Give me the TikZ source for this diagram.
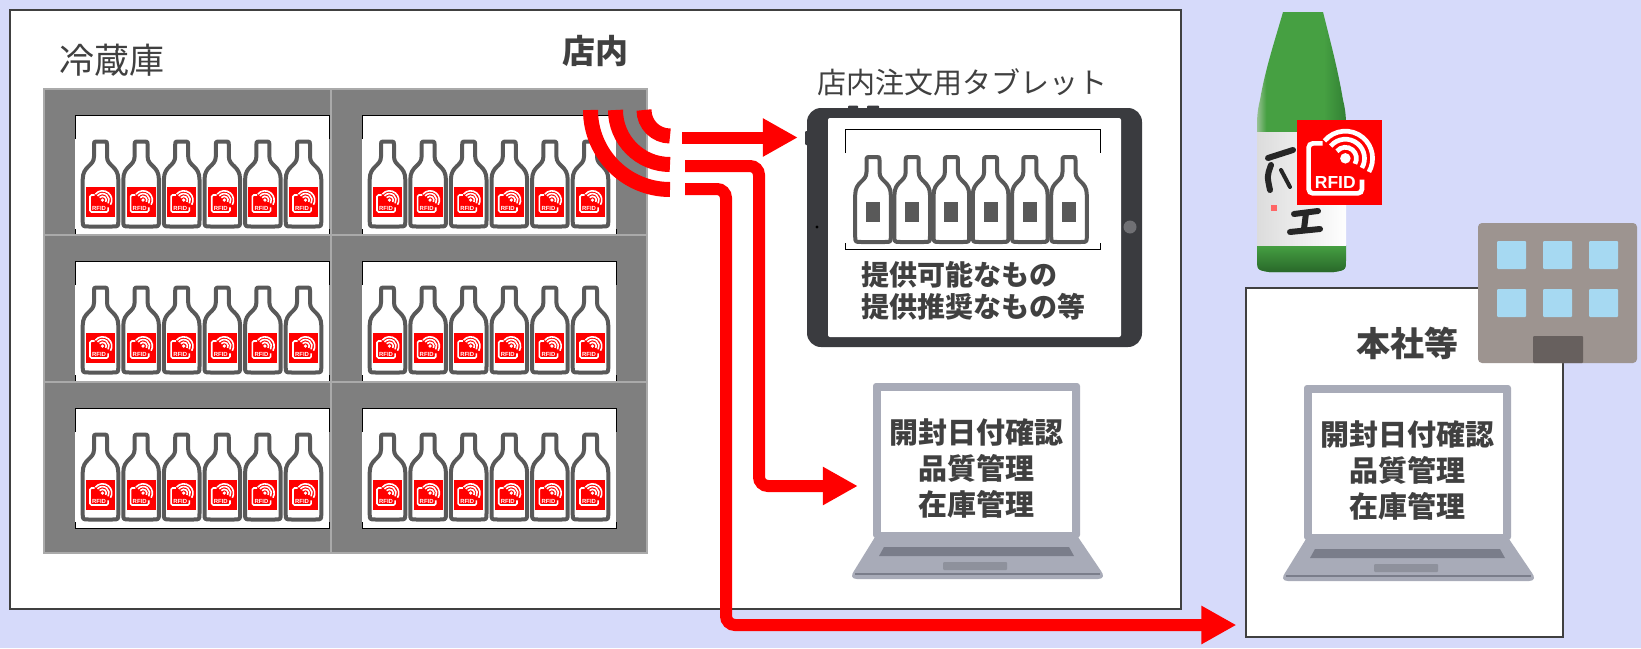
\documentclass[tikz,border=0pt]{standalone}
\usepackage{fontspec}
\newfontfamily\jp{Noto Sans CJK JP}
\newfontfamily\tagfont{Liberation Sans}
\usetikzlibrary{arrows.meta}

\definecolor{bgblue}{RGB}{214,218,250}
\definecolor{ink}{RGB}{64,64,64}
\definecolor{fridge}{RGB}{127,127,127}
\definecolor{fridgeline}{RGB}{170,170,170}
\definecolor{bottleline}{RGB}{89,89,89}
\definecolor{tabletframe}{RGB}{58,59,63}
\definecolor{homebtn}{RGB}{112,112,116}
\definecolor{lapgray}{RGB}{168,171,184}
\definecolor{lapdark}{RGB}{122,125,138}
\definecolor{bldg}{RGB}{157,148,144}
\definecolor{bldgwin}{RGB}{166,217,242}
\definecolor{bldgdoor}{RGB}{103,96,94}
\definecolor{sakegreen}{RGB}{70,160,66}
\definecolor{sakedark}{RGB}{48,125,50}
\definecolor{sakelight}{RGB}{170,200,166}
\definecolor{tagred}{RGB}{255,0,0}

% glass colour across the sake bottle: pale rim on the left, deep green on the right
\pgfdeclarehorizontalshading{sakeglass}{100bp}{%
  color(0bp)=(sakelight); color(25bp)=(sakelight); color(31bp)=(sakegreen);
  color(62bp)=(sakegreen); color(75bp)=(sakedark); color(100bp)=(sakedark)}

\tikzset{
  jptext/.style={text=ink, inner sep=0pt},
  flow/.style={draw=tagred, line width=12pt, rounded corners=9pt,
    -{Triangle[length=35pt,width=36pt]}},
  wave/.style={draw=tagred, line width=15pt},
  cellbox/.style={fill=fridge, draw=fridgeline, line width=1.5pt},
  bottlebody/.style={draw=bottleline, fill=white, line width=4pt, line join=round},
  screenframe/.style={fill=lapgray, rounded corners=3pt, inner sep=0pt,
    minimum width=207pt, minimum height=155pt},
  brush/.style={black!85, line width=5pt, line cap=round},
}

% white RFID symbol inside a square tag: top-left x, top-left y, tag size
\newcommand\rfidmark[3]{%
  \begin{scope}[shift={(#1,#2)}, x=#3pt, y=-#3pt]
    \pgfmathsetmacro\rfidlw{0.055*#3}%
    \pgfmathsetmacro\rfidfs{0.205*#3}%
    \pgfmathsetmacro\rfidrc{0.05*#3}%
    \draw[white, line width=\rfidlw pt, rounded corners=\rfidrc pt]
      (0.30,0.275) -- (0.137,0.275) -- (0.137,0.863) -- (0.765,0.863) -- (0.765,0.70);
    \fill[white] (0.569,0.451) circle[radius=0.062];
    \foreach \r in {0.13,0.225,0.32}{%
      \draw[white, line width=\rfidlw pt] (0.569,0.451) ++(-140:\r)
        arc[start angle=-140, end angle=30, radius=\r];}
    \node[white, inner sep=0pt,
      font=\tagfont\bfseries\fontsize{\rfidfs pt}{\rfidfs pt}\selectfont]
      at (0.45,0.74) {RFID};
  \end{scope}}

% outline of a small bottle, origin at the centre of its top
\newcommand\bottleoutline{%
  \draw[bottlebody] (-6.5,3) .. controls (-6.5,0) .. (-3.5,0) -- (3.5,0)
    .. controls (6.5,0) .. (6.5,3) -- (6.5,15)
    .. controls (6.5,25) and (17.8,24) .. (17.8,38) -- (17.8,79)
    .. controls (17.8,85) .. (11.8,85) -- (-11.8,85)
    .. controls (-17.8,85) .. (-17.8,79) -- (-17.8,38)
    .. controls (-17.8,24) and (-6.5,25) .. (-6.5,15) -- cycle;}

\newcommand\rfidbottle[2]{%
  \begin{scope}[shift={(#1,#2)}]
    \bottleoutline
    \fill[tagred] (-14.5,45) rectangle (14.5,75);
    \rfidmark{-14.5}{45.5}{29}
  \end{scope}}

\newcommand\menubottle[2]{%
  \begin{scope}[shift={(#1,#2)}]
    \bottleoutline
    \fill[bottleline] (-7,45) rectangle (7,65);
  \end{scope}}

% white shelf panel with a partly drawn frame: x, y, width, height
\newcommand\panel[4]{%
  \fill[white] (#1,#2) rectangle (#1+#3,#2+#4);
  \draw[black, line width=1pt] (#1,#2+24) -- (#1,#2) -- (#1+#3,#2) -- (#1+#3,#2+24);
  \draw[black, line width=1pt] (#1,#2+#4-6) -- (#1,#2+#4) -- (#1+#3,#2+#4) -- (#1+#3,#2+#4-6);}

% notebook computer: node name, shift x, shift y
\newcommand\laptop[3]{%
  \begin{scope}[shift={(#2,#3)}]
    \fill[lapgray] (875,537) -- (1078,537) -- (1101,571)
      .. controls (1104,575) and (1104,579) .. (1098,579) -- (857,579)
      .. controls (851,579) and (851,575) .. (854,571) -- cycle;
    \fill[lapdark] (884,547) -- (1069,547) -- (1074,556) -- (879,556) -- cycle;
    \fill[lapdark!85!white, rounded corners=1pt] (943,562) rectangle (1007,570);
    \draw[lapdark, line width=1.5pt] (855,574) -- (1100,574);
    \node[screenframe] (#1) at (976.5,460.5) {};
    \fill[white] (881,391) rectangle (1072,532);
    \node[jptext, align=center, font=\jp\bfseries\fontsize{29pt}{36pt}\selectfont]
      (#1text) at (976,468) {開封日付確認\\品質管理\\在庫管理};
  \end{scope}}

\begin{document}
\begin{tikzpicture}[x=1pt, y=-1pt]
\useasboundingbox (0,0) rectangle (1641,648);
\fill[bgblue] (0,0) rectangle (1641,648);

% shop area
\node[draw=ink, fill=white, line width=1.2pt, inner sep=0pt,
  minimum width=1171pt, minimum height=599pt] (store) at (595.5,309.5) {};
\node[jptext, font=\jp\fontsize{35pt}{40pt}\selectfont] (fridgelabel) at (112,60) {冷蔵庫};
\node[jptext, font=\jp\bfseries\fontsize{33pt}{40pt}\selectfont] (storelabel) at (595,51) {店内};

% refrigerator: two columns, three shelves
\foreach \cx/\cw in {44/287, 331/316} {
  \foreach \ry/\rh in {89/146, 235/147, 382/171} {
    \draw[cellbox] (\cx,\ry) rectangle (\cx+\cw,\ry+\rh);
    \panel{\cx+31}{\ry+26}{254}{120}
    \foreach \i in {0,...,5} {\rfidbottle{\cx+56.5+40.6*\i}{\ry+52.5}}
  }
}

% ordering tablet
\node[jptext, font=\jp\fontsize{29pt}{34pt}\selectfont] (tablettitle) at (962,82) {店内注文用タブレット};
\fill[tabletframe, rounded corners=1pt] (848,105.5) rectangle (858,110);
\fill[tabletframe, rounded corners=1pt] (867,105.5) rectangle (879,110);
\fill[tabletframe, rounded corners=1pt] (805,131) rectangle (809,145);
\node[fill=tabletframe, rounded corners=14pt, inner sep=0pt,
  minimum width=335pt, minimum height=239pt] (tablet) at (974.5,227.5) {};
\fill[white, rounded corners=2pt] (828,118) rectangle (1121,337);
\fill[black] (817,227) circle[radius=1.6];
\fill[homebtn] (1130,227) circle[radius=6.5];
\panel{845}{129}{255}{120}
\foreach \i in {0,...,5} {\menubottle{873+39.2*\i}{157}}
\node[jptext, anchor=west, font=\jp\bfseries\fontsize{28pt}{32pt}\selectfont]
  (offer1) at (861,275) {提供可能なもの};
\node[jptext, anchor=west, font=\jp\bfseries\fontsize{28pt}{32pt}\selectfont]
  (offer2) at (861,307) {提供推奨なもの等};

% shop computer
\laptop{shoppc}{0}{0}

% head office
\node[draw=ink, fill=white, line width=1.2pt, inner sep=0pt,
  minimum width=317pt, minimum height=349pt] (hq) at (1404.5,462.5) {};
\node[jptext, font=\jp\bfseries\fontsize{34pt}{40pt}\selectfont] (hqlabel) at (1407,343) {本社等};
\laptop{hqpc}{431}{2}

% office building
\fill[bldg, rounded corners=4pt] (1478,223) rectangle (1637,363);
\foreach \wx in {1497,1543,1589} {
  \foreach \wy in {241,289} {
    \fill[bldgwin, rounded corners=1pt] (\wx,\wy) rectangle ++(29,28);
  }
}
\fill[bldgdoor, rounded corners=1pt] (1533,336) rectangle (1583,363);

% sake bottle with its tag
\begin{scope}
  \path[clip] (1283,12) -- (1323,12) .. controls (1330,40) and (1338,70) .. (1343,100)
    .. controls (1345,108) and (1346,115) .. (1346,125) -- (1346,258)
    .. controls (1346,270) .. (1334,272) -- (1269,272)
    .. controls (1257,270) .. (1257,258) -- (1257,125)
    .. controls (1257,115) and (1258,108) .. (1260,100)
    .. controls (1265,70) and (1275,40) .. (1283,12) -- cycle;
  \shade[shading=sakeglass] (1255,10) rectangle (1348,274);
  \shade[top color=sakegreen, bottom color=sakedark!80!black] (1255,245) rectangle (1348,274);
  \shade[left color=black!14, right color=white] (1255,132) rectangle (1348,245);
  \draw[brush, line width=6pt] (1268,158) -- (1293,150);
  \draw[brush, line width=6pt] (1271,165) .. controls (1267,176) .. (1270,190);
  \draw[brush, line width=4pt] (1281,170) -- (1290,187);
  \draw[brush, line width=6pt] (1294,214) -- (1318,211);
  \draw[brush, line width=6pt] (1306,213) -- (1304,229);
  \draw[brush, line width=6pt] (1290,232) -- (1320,229);
  \fill[red!60!white] (1271,205) rectangle (1277,211);
\end{scope}
\fill[tagred] (1297,120) rectangle (1382,205);
\rfidmark{1297}{120}{85}

% radio waves from the refrigerator
\foreach \r in {26,54.5,79.5} {
  \draw[wave] (670-\r,110) arc[start angle=180, end angle=90, radius=\r];
}

% data flows
\coordinate (src1) at (682,137.5);
\coordinate (src2) at (685,166);
\coordinate (src3) at (685,189);
\coordinate (bend2) at (759,486);
\coordinate (bend3) at (726,625);
\draw[flow, shorten >=9pt] (src1) -- (src1 -| tablet.west);
\draw[flow, shorten >=15pt] (src2) -| (bend2) -- (bend2 -| shoppc.west);
\draw[flow, shorten >=9pt] (src3) -| (bend3) -- (bend3 -| hq.west);
\end{tikzpicture}
\end{document}
